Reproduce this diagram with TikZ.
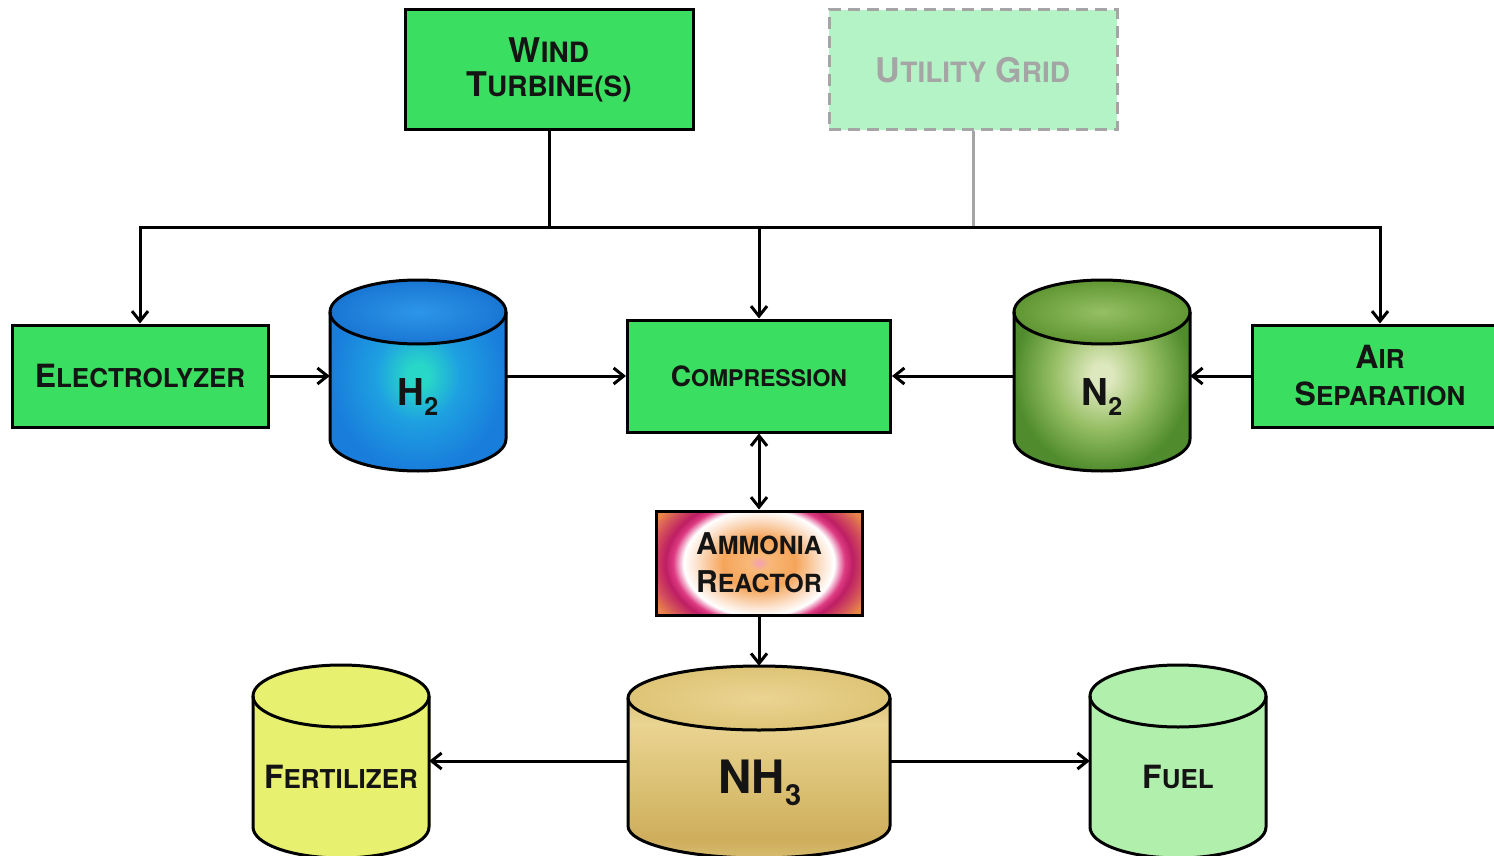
\documentclass[tikz,border=0pt]{standalone}
\usepackage{fontspec}
\setmainfont{TeX Gyre Heros}
\usetikzlibrary{arrows.meta}
\definecolor{boxgreen}{RGB}{58,222,96}
\definecolor{gridfill}{RGB}{180,243,197}
\definecolor{gridgray}{RGB}{165,165,165}
\definecolor{txt}{RGB}{20,20,20}
\definecolor{h2in}{RGB}{40,215,200}
\definecolor{h2mid}{RGB}{30,160,225}
\definecolor{h2out}{RGB}{25,125,220}
\definecolor{h2topin}{RGB}{45,150,232}
\definecolor{h2topout}{RGB}{25,118,212}
\definecolor{n2in}{RGB}{222,232,190}
\definecolor{n2mid}{RGB}{150,190,100}
\definecolor{n2out}{RGB}{80,140,45}
\definecolor{n2topin}{RGB}{150,192,100}
\definecolor{n2topout}{RGB}{95,150,50}
\definecolor{g1}{RGB}{234,212,146}
\definecolor{g2}{RGB}{220,194,118}
\definecolor{g3}{RGB}{206,174,92}
\definecolor{gtop}{RGB}{222,196,118}
\definecolor{fertfill}{RGB}{232,240,112}
\definecolor{fuelfill}{RGB}{176,240,172}
\definecolor{rpink}{RGB}{244,160,180}
\definecolor{rlo}{RGB}{248,184,120}
\definecolor{rorange}{RGB}{245,165,90}
\definecolor{rpale}{RGB}{252,226,205}
\definecolor{rmag}{RGB}{222,60,130}
\definecolor{rcrim}{RGB}{190,30,100}
\definecolor{redge}{RGB}{210,80,90}
\definecolor{rcorner}{RGB}{232,135,75}
\pgfdeclareradialshading{h2sh}{\pgfpointorigin}{color(0bp)=(h2in); color(3bp)=(h2in); color(12bp)=(h2mid); color(25bp)=(h2out); color(50bp)=(h2out)}
\pgfdeclareradialshading{n2sh}{\pgfpointorigin}{color(0bp)=(n2in); color(3bp)=(n2in); color(14bp)=(n2mid); color(25bp)=(n2out); color(50bp)=(n2out)}
\pgfdeclareverticalshading{goldsh}{100bp}{color(0bp)=(g2); color(15bp)=(g1); color(30bp)=(g3); color(45bp)=(g2); color(60bp)=(g1); color(75bp)=(g3); color(90bp)=(g2); color(100bp)=(g3)}
\pgfdeclareradialshading{reactorsh}{\pgfpointorigin}{color(0bp)=(rpink); color(2bp)=(rlo); color(7bp)=(rorange); color(12bp)=(rpale); color(14.5bp)=(white); color(16.5bp)=(rmag); color(18bp)=(rcrim); color(20.5bp)=(redge); color(23bp)=(rcorner); color(25bp)=(rcorner); color(50bp)=(rcorner)}
\newcommand{\sca}[4]{{\fontsize{#1pt}{#1pt}\selectfont #3}{\fontsize{#2pt}{#2pt}\selectfont #4}}
% cx, top, bottom, rx, ry, body style, top style
\newcommand{\cylshape}[7]{%
  \path[#6] (#1-#4,#2+#5) -- (#1-#4,#3-#5) arc[start angle=180,end angle=0,x radius=#4,y radius=#5] -- (#1+#4,#2+#5) arc[start angle=0,end angle=-180,x radius=#4,y radius=#5] -- cycle;
  \path[#7] (#1,#2+#5) ellipse[x radius=#4,y radius=#5];
  \draw[outline] (#1-#4,#2+#5) -- (#1-#4,#3-#5) arc[start angle=180,end angle=0,x radius=#4,y radius=#5] -- (#1+#4,#2+#5);
  \draw[outline] (#1,#2+#5) ellipse[x radius=#4,y radius=#5];
}
\begin{document}
\begin{tikzpicture}[x=1pt,y=-1pt,
  outline/.style={draw=black,line width=3pt},
  box/.style={draw=black,line width=3pt,fill=boxgreen,inner sep=0pt,align=center,text=txt,font=\bfseries},
  gridbox/.style={draw=gridgray,line width=3pt,dash pattern=on 12pt off 7pt,fill=gridfill,inner sep=0pt,align=center,text=gridgray,font=\bfseries},
  place/.style={draw=none,inner sep=0pt},
  lbl/.style={anchor=base,inner sep=0pt,text=txt,font=\bfseries},
  wire/.style={draw=black,line width=3pt,line join=miter},
  arr/.style={wire,-{Straight Barb[length=10pt,width=16pt]}},
  darr/.style={wire,{Straight Barb[length=10pt,width=16pt]}-{Straight Barb[length=10pt,width=16pt]}},
  reac/.style={draw=black,line width=3pt,inner sep=0pt,align=center,text=txt,font=\bfseries,
    path picture={\fill[rcorner] (path picture bounding box.south west) rectangle (path picture bounding box.north east);
      \shade[shading=reactorsh] (path picture bounding box.center) ellipse[x radius=130pt,y radius=92pt];}}
]
\clip (0,0) rectangle (1494,856);
\fill[white] (0,0) rectangle (1494,856);

% cylinders
\cylshape{418}{280}{471}{88}{32}{shading=h2sh}{inner color=h2topin,outer color=h2topout}
\cylshape{1102}{280}{471}{88}{32}{shading=n2sh}{inner color=n2topin,outer color=n2topout}
\cylshape{759}{666}{858}{131}{32}{shading=goldsh}{inner color=g1,outer color=gtop}
\cylshape{341}{665}{858}{88}{31}{fill=fertfill}{fill=fertfill}
\cylshape{1178}{665}{858}{88}{31}{fill=fuelfill}{fill=fuelfill}

% placeholders for connections
\node[place,minimum width=176pt,minimum height=191pt] (h2) at (418,376) {};
\node[place,minimum width=176pt,minimum height=191pt] (n2) at (1102,376) {};
\node[place,minimum width=262pt,minimum height=190pt] (nh3) at (759,761) {};
\node[place,minimum width=176pt,minimum height=190pt] (fert) at (341,761) {};
\node[place,minimum width=176pt,minimum height=190pt] (fuel) at (1178,761) {};

% labels in cylinders
\node[lbl] (h2t) at (418,405) {\fontsize{37pt}{37pt}\selectfont H\raisebox{-10pt}{\fontsize{25pt}{25pt}\selectfont 2}};
\node[lbl] (n2t) at (1102,405) {\fontsize{37pt}{37pt}\selectfont N\raisebox{-10pt}{\fontsize{25pt}{25pt}\selectfont 2}};
\node[lbl] (nh3t) at (760,793) {\fontsize{46pt}{46pt}\selectfont NH\raisebox{-12pt}{\fontsize{29pt}{29pt}\selectfont 3}};
\node[lbl] (fertt) at (341,788) {\sca{32}{26}{F}{ERTILIZER}};
\node[lbl] (fuelt) at (1178,788) {\sca{32}{26}{F}{UEL}};

% boxes
\node[box,minimum width=288pt,minimum height=120pt,font=\bfseries\fontsize{28pt}{34pt}\selectfont] (wind) at (549,70) {\sca{34}{28}{W}{IND}\\\sca{34}{28}{T}{URBINE(S)}};
\node[gridbox,minimum width=288pt,minimum height=120pt] (grid) at (973,70) {\sca{34}{28}{U}{TILITY}\hspace{9pt}\sca{34}{28}{G}{RID}};
\node[box,minimum width=256pt,minimum height=102pt] (elec) at (140,376) {\sca{32}{26}{E}{LECTROLYZER}};
\node[box,minimum width=263pt,minimum height=112pt] (comp) at (759,376) {\sca{28}{23}{C}{OMPRESSION}};
\node[box,minimum width=256pt,minimum height=102pt,font=\bfseries\fontsize{26pt}{37pt}\selectfont] (air) at (1380,376) {\sca{32}{26}{A}{IR}\\\sca{32}{26}{S}{EPARATION}};
\node[reac,minimum width=206pt,minimum height=104pt,font=\bfseries\fontsize{25pt}{38pt}\selectfont] (reac) at (759,563) {\sca{30}{25}{A}{MMONIA}\\\sca{30}{25}{R}{EACTOR}};

% power bus
\coordinate (bL) at (140,227);
\coordinate (bR) at (1380,227);
\draw[draw=gridgray,line width=3pt] (grid.south) -- (grid.south |- bL);
\draw[wire] (wind.south) -- (wind.south |- bL);
\draw[darr] (elec.north) -- (bL) -- (bR) -- (air.north);
\draw[arr] (comp.north |- bL) -- (comp.north);

% flows
\draw[arr] (elec.east) -- (h2.west);
\draw[arr] (h2.east) -- (comp.west);
\draw[arr] (n2.west) -- (comp.east);
\draw[arr] (air.west) -- (n2.east);
\draw[darr] (comp.south) -- (reac.north);
\draw[arr] (reac.south) -- (nh3.north);
\draw[arr] (nh3.west) -- (fert.east);
\draw[arr] (nh3.east) -- (fuel.west);
\end{tikzpicture}
\end{document}
